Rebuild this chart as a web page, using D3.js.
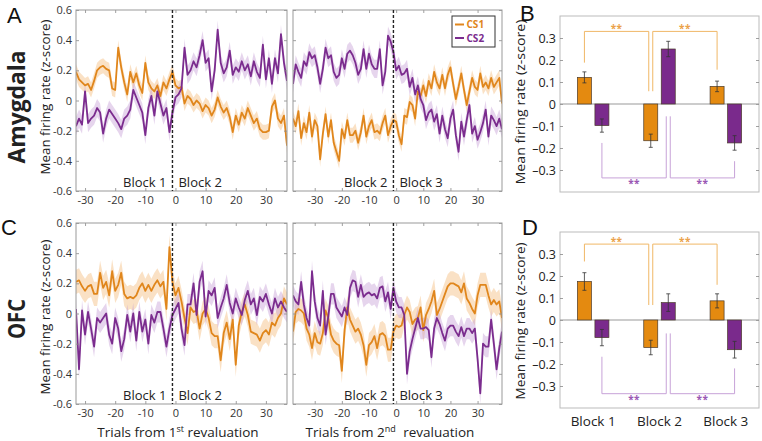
<!DOCTYPE html>
<html><head><meta charset="utf-8">
<script src="https://cdn.jsdelivr.net/npm/d3@7"></script>
<style>
body{margin:0;background:#fff}
svg text{font-family:"Open Sans","Noto Sans",sans-serif}
</style>
</head><body>
<svg id="chart" width="762" height="441"></svg>
<script>
// ---------------- DATA ----------------
const trialsRev1 = d3.range(-33, 38);   // trials from 1st revaluation
const trialsRev2 = d3.range(-38, 40);   // trials from 2nd revaluation
const xTicks = [-30, -20, -10, 0, 10, 20, 30];
const yTicksLine = [0.6, 0.4, 0.2, 0, -0.2, -0.4, -0.6];
const yTicksBar = [0.3, 0.2, 0.1, 0, -0.1, -0.2, -0.3];

const amyRev1CS1 = [0.19,0.14,0.12,0.10,0.11,0.07,0.13,0.20,0.22,0.23,0.21,0.20,0.08,0.07,0.35,0.22,0.12,0.04,0.19,0.12,0.18,0.10,0.05,0.25,0.12,0.08,0.06,0.10,0.03,0.12,0.08,0.14,0.19,
  0.10,0.08,0.09,-0.02,0.03,0.01,-0.03,0.00,-0.02,-0.07,-0.03,-0.05,-0.10,-0.06,0.02,-0.04,-0.08,-0.05,-0.11,-0.21,-0.10,-0.16,-0.08,-0.12,-0.05,-0.10,-0.15,-0.12,-0.19,-0.21,-0.21,-0.20,-0.04,0.00,-0.12,-0.15,-0.10,-0.30];
const amyRev1CS2 = [-0.17,-0.12,-0.16,0.06,-0.15,-0.12,-0.10,-0.05,-0.08,-0.22,-0.12,-0.06,-0.09,-0.12,-0.15,-0.19,-0.12,-0.10,-0.06,0.07,0.02,-0.03,-0.08,-0.23,-0.05,0.03,-0.10,0.06,-0.02,-0.10,-0.05,-0.21,-0.08,
  0.02,0.04,0.08,0.35,0.17,0.20,0.26,0.22,0.30,0.40,0.25,0.28,0.06,0.20,0.47,0.25,0.18,0.22,0.33,0.17,0.22,0.19,0.26,0.20,0.24,0.16,0.26,0.19,0.15,0.37,0.14,0.28,0.11,0.28,0.18,0.44,0.25,0.13];
const amyRev2CS1 = [-0.12,-0.17,-0.07,-0.25,-0.15,-0.21,-0.08,-0.24,-0.13,-0.17,-0.39,-0.22,-0.09,-0.24,-0.13,-0.28,-0.34,-0.40,-0.19,-0.25,-0.13,-0.23,-0.23,-0.20,-0.28,-0.21,-0.10,-0.24,-0.17,-0.13,-0.21,-0.20,-0.22,-0.15,-0.10,-0.23,-0.17,-0.13,
  -0.14,-0.23,-0.29,-0.10,-0.11,-0.01,-0.03,-0.12,0.06,0.03,0.10,0.03,0.13,0.08,0.19,0.12,0.08,0.17,0.08,0.17,0.22,0.11,0.01,0.09,0.18,0.07,-0.03,0.06,0.15,0.09,0.07,0.18,0.09,0.12,0.08,0.15,0.09,0.12,0.15,-0.02];
const amyRev2CS2 = [0.11,0.24,0.19,0.15,0.26,0.23,0.32,0.28,0.30,0.22,0.11,0.21,0.35,0.28,0.30,0.19,0.15,0.17,0.28,0.21,0.31,0.33,0.30,0.25,0.17,0.21,0.34,0.21,0.31,0.24,0.21,0.21,0.34,0.10,0.19,0.43,0.39,0.32,
  0.20,0.23,0.17,0.18,0.21,0.09,0.15,0.04,0.10,0.01,-0.03,-0.13,-0.08,-0.06,-0.14,-0.09,-0.22,-0.10,-0.19,-0.25,-0.12,-0.06,-0.23,-0.34,-0.14,-0.24,-0.13,-0.03,-0.22,-0.17,-0.26,-0.21,-0.15,-0.06,-0.24,-0.10,-0.13,-0.17,-0.12,-0.19];
const ofcRev1CS1 = [0.21,0.22,0.18,0.15,0.18,0.19,0.13,0.13,0.27,0.17,0.21,0.12,0.28,0.15,0.19,0.27,0.13,0.10,0.11,0.10,0.12,0.17,0.20,0.15,0.19,0.15,0.19,0.22,0.18,0.21,0.03,0.44,0.21,
  0.12,0.17,0.08,-0.03,-0.13,0.04,0.01,0.02,-0.10,0.00,0.03,-0.03,-0.13,-0.15,-0.15,-0.31,-0.13,-0.06,-0.17,-0.04,-0.34,-0.08,0.01,0.06,-0.01,-0.12,-0.13,-0.14,-0.18,-0.13,-0.11,-0.14,-0.06,-0.08,-0.03,0.00,0.10,0.06];
const ofcRev1CS2 = [0.03,-0.37,0.02,-0.14,0.01,-0.10,-0.22,-0.03,-0.06,-0.03,0.00,-0.14,-0.20,-0.03,-0.10,-0.25,-0.17,-0.01,-0.12,0.00,-0.18,0.01,-0.12,-0.04,-0.20,-0.01,-0.06,0.01,0.01,-0.10,-0.22,-0.10,-0.01,
  0.03,0.07,-0.10,-0.21,0.06,0.06,0.20,-0.01,0.21,0.28,-0.02,0.15,0.12,0.17,-0.03,0.04,0.10,0.19,0.07,0.00,0.10,0.04,-0.01,0.09,0.15,0.06,0.10,-0.01,0.11,0.08,0.13,0.06,0.00,0.10,0.04,0.08,0.04,0.01];
const ofcRev2CS1 = [-0.12,0.01,0.03,0.02,0.00,-0.10,-0.14,-0.23,-0.13,-0.19,-0.20,-0.13,0.02,-0.03,-0.14,-0.18,-0.20,-0.21,-0.38,-0.11,0.04,-0.04,-0.08,-0.12,-0.10,-0.14,-0.21,-0.34,-0.21,-0.19,-0.15,-0.23,-0.14,-0.13,-0.15,-0.24,-0.24,-0.12,
  -0.08,-0.09,-0.08,-0.01,0.04,0.01,-0.07,-0.04,-0.03,0.04,-0.11,-0.01,0.03,0.08,0.15,-0.01,0.03,0.08,0.13,0.18,0.20,0.20,0.19,0.18,0.14,0.20,0.10,0.07,0.03,0.00,0.12,0.19,0.19,0.19,0.12,0.06,0.09,0.06,0.08,-0.03];
const ofcRev2CS2 = [0.12,0.08,0.06,0.21,0.06,-0.03,-0.08,0.28,0.08,-0.03,-0.08,0.15,-0.14,-0.02,0.13,0.13,0.04,0.01,-0.02,0.04,-0.01,0.17,0.22,0.21,0.11,0.19,0.11,0.13,0.14,0.12,0.13,0.10,0.17,0.18,0.08,0.14,0.03,0.17,
  0.08,0.04,0.04,-0.01,-0.40,-0.25,-0.17,-0.10,-0.03,-0.10,-0.10,-0.09,-0.11,-0.29,-0.10,-0.03,-0.07,-0.13,-0.18,-0.10,-0.08,-0.08,-0.12,-0.15,-0.09,-0.15,-0.10,-0.10,-0.13,-0.10,-0.30,-0.53,-0.20,-0.22,-0.22,-0.04,-0.20,-0.37,-0.23,-0.12];
// s.e.m. half-width of shaded bands [CS1, CS2]
const amySem = [0.05, 0.06];
const ofcSem = [0.08, 0.07];

const blocks = ["Block 1", "Block 2", "Block 3"];
const amyBarCS1 = [0.121, -0.167, 0.080];
const amyBarCS1Err = [0.025, 0.030, 0.024];
const amyBarCS2 = [-0.098, 0.250, -0.177];
const amyBarCS2Err = [0.030, 0.035, 0.033];
const ofcBarCS1 = [0.175, -0.125, 0.087];
const ofcBarCS1Err = [0.040, 0.033, 0.032];
const ofcBarCS2 = [-0.080, 0.079, -0.135];
const ofcBarCS2Err = [0.037, 0.040, 0.038];
// significance brackets: [level, leg1 end, leg2 end, leg3 end, leg4 end]
const amyBracketCS1 = [0.330, 0.188, 0.058, 0.058, 0.156];
const amyBracketCS2 = [-0.336, -0.177, -0.056, -0.056, -0.260];
const ofcBracketCS1 = [0.345, 0.266, 0.068, 0.068, 0.160];
const ofcBracketCS2 = [-0.335, -0.167, -0.061, -0.061, -0.220];
const sigLabel = "**";

// ---------------- STYLE ----------------
const ORANGE = "#E0861C", PURPLE = "#7B2C8E";
const ORANGE_BAND = "#F3BD7E", PURPLE_BAND = "#C8A2D6";
const BAR_ORANGE = "#E48A10", BAR_PURPLE = "#7A2A8C";
const BR_ORANGE = "#F0B766", BR_PURPLE = "#C7A2D8";
const STAR_ORANGE = "#EBA24A", STAR_PURPLE = "#9A58B4";

const svg = d3.select("#chart");

function fmtLine(d){ return d === 0 ? "0" : d.toFixed(1); }
function fmtBar(d){ return d === 0 ? "0" : (d < 0 ? "\u2013" : "") + Math.abs(d).toFixed(1); }

function styleAxis(sel, labelSize, labelColor){
  sel.select(".domain").remove();
  sel.selectAll(".tick line").attr("stroke", "#888").attr("stroke-width", 0.8);
  sel.selectAll(".tick text").attr("font-size", labelSize).attr("fill", labelColor)
     .style("font-family", '"Open Sans","Noto Sans",sans-serif');
}

let clipId = 0;
function linePanel(cfg){
  const g = svg.append("g");
  const x = d3.scaleLinear().domain(cfg.domain).range([cfg.left, cfg.right]);
  const y = d3.scaleLinear().domain([-0.6, 0.6]).range([cfg.bottom, cfg.top]);
  const id = "clip" + (clipId++);
  svg.append("clipPath").attr("id", id).append("rect")
    .attr("x", cfg.left).attr("y", cfg.top)
    .attr("width", cfg.right - cfg.left).attr("height", cfg.bottom - cfg.top);
  const plot = g.append("g").attr("clip-path", `url(#${id})`);
  cfg.series.forEach(s => {
    const area = d3.area().x((d, i) => x(cfg.trials[i]))
      .y0(d => y(d - s.sem)).y1(d => y(d + s.sem));
    plot.append("path").datum(s.values).attr("d", area)
      .attr("fill", s.band).attr("fill-opacity", 0.45);
  });
  cfg.series.forEach(s => {
    const line = d3.line().x((d, i) => x(cfg.trials[i])).y(d => y(d));
    plot.append("path").datum(s.values).attr("d", line)
      .attr("fill", "none").attr("stroke", s.color).attr("stroke-width", 1.8)
      .attr("stroke-linejoin", "round");
  });
  const bx = g.append("g").attr("transform", `translate(0,${cfg.bottom})`)
    .call(d3.axisBottom(x).tickValues(xTicks).tickSize(-3).tickPadding(5).tickFormat(d => String(d)));
  styleAxis(bx, 11, "#333");
  const tx = g.append("g").attr("transform", `translate(0,${cfg.top})`)
    .call(d3.axisTop(x).tickValues(xTicks).tickSize(-3).tickFormat(""));
  styleAxis(tx, 11, "#333");
  const ly = g.append("g").attr("transform", `translate(${cfg.left},0)`)
    .call(d3.axisLeft(y).tickValues(yTicksLine).tickSize(-3).tickPadding(4)
      .tickFormat(cfg.yLabels ? fmtLine : ""));
  styleAxis(ly, 11, "#333");
  const ry = g.append("g").attr("transform", `translate(${cfg.right},0)`)
    .call(d3.axisRight(y).tickValues(yTicksLine).tickSize(-3).tickFormat(""));
  styleAxis(ry, 11, "#333");
  g.append("rect").attr("x", cfg.left).attr("y", cfg.top)
    .attr("width", cfg.right - cfg.left).attr("height", cfg.bottom - cfg.top)
    .attr("fill", "none").attr("stroke", "#999").attr("stroke-width", 1);
  g.append("line").attr("x1", x(cfg.dash)).attr("x2", x(cfg.dash))
    .attr("y1", cfg.top).attr("y2", cfg.bottom)
    .attr("stroke", "#222").attr("stroke-width", 1.4).attr("stroke-dasharray", "3,2");
  g.append("text").attr("x", x(cfg.dash) - 6).attr("y", cfg.bottom - 4)
    .attr("text-anchor", "end").attr("font-size", 13).attr("fill", "#222").text(cfg.blockNames[0]);
  g.append("text").attr("x", x(cfg.dash) + 6).attr("y", cfg.bottom - 4)
    .attr("text-anchor", "start").attr("font-size", 13).attr("fill", "#222").text(cfg.blockNames[1]);
  return {x, y, g};
}

function barPanel(cfg){
  const g = svg.append("g");
  const x = d3.scalePoint().domain(blocks).range([cfg.left, cfg.right]).padding(0.5);
  const y = d3.scaleLinear().domain([-0.4, 0.4]).range([cfg.bottom, cfg.top]);
  const bw = 14, off = 8.75;
  g.append("rect").attr("x", cfg.left).attr("y", cfg.top)
    .attr("width", cfg.right - cfg.left).attr("height", cfg.bottom - cfg.top)
    .attr("fill", "none").attr("stroke", "#bbb").attr("stroke-width", 1);
  const ly = g.append("g").attr("transform", `translate(${cfg.left},0)`)
    .call(d3.axisLeft(y).tickValues(yTicksBar).tickSize(-3).tickPadding(4).tickFormat(fmtBar));
  styleAxis(ly, 12.5, "#222");
  const ry = g.append("g").attr("transform", `translate(${cfg.right},0)`)
    .call(d3.axisRight(y).tickValues(yTicksBar).tickSize(-3).tickFormat(""));
  styleAxis(ry, 12, "#222");
  g.append("line").attr("x1", cfg.left).attr("x2", cfg.right)
    .attr("y1", y(0)).attr("y2", y(0)).attr("stroke", "#999").attr("stroke-width", 1);

  const groups = [
    {vals: cfg.cs1, errs: cfg.cs1Err, dx: -off, fill: BAR_ORANGE},
    {vals: cfg.cs2, errs: cfg.cs2Err, dx: off, fill: BAR_PURPLE}
  ];
  groups.forEach(gr => {
    g.selectAll(null).data(gr.vals).join("rect")
      .attr("x", (d, i) => x(blocks[i]) + gr.dx - bw / 2)
      .attr("y", d => y(Math.max(0, d)))
      .attr("width", bw)
      .attr("height", d => Math.abs(y(d) - y(0)))
      .attr("fill", gr.fill).attr("stroke", "#4a3a2a").attr("stroke-width", 0.7);
    gr.vals.forEach((v, i) => {
      const cx = x(blocks[i]) + gr.dx, e = gr.errs[i];
      g.append("line").attr("x1", cx).attr("x2", cx).attr("y1", y(v - e)).attr("y2", y(v + e))
        .attr("stroke", "#333").attr("stroke-width", 0.8);
      [v - e, v + e].forEach(w => g.append("line").attr("x1", cx - 2).attr("x2", cx + 2)
        .attr("y1", y(w)).attr("y2", y(w)).attr("stroke", "#333").attr("stroke-width", 0.8));
    });
  });

  function bracket(b, dx, color, starColor, below){
    const c = blocks.map(k => x(k) + dx);
    const xs = [c[0], c[1] - 2, c[1] + 2, c[2]];
    const lvl = y(b[0]);
    [[0, 1], [2, 3]].forEach(([a, z]) => {
      g.append("path")
        .attr("d", `M${xs[a]},${y(b[a + 1])}V${lvl}H${xs[z]}V${y(b[z + 1])}`)
        .attr("fill", "none").attr("stroke", color).attr("stroke-width", 1);
      g.append("text").attr("x", (xs[a] + xs[z]) / 2).attr("y", below ? lvl + 9.5 : lvl + 0.5)
        .attr("text-anchor", "middle").attr("font-size", 10).attr("font-weight", "bold")
        .attr("letter-spacing", 0.5).attr("fill", starColor).text(sigLabel);
    });
  }
  bracket(cfg.brCS1, -off, BR_ORANGE, STAR_ORANGE, false);
  bracket(cfg.brCS2, off, BR_PURPLE, STAR_PURPLE, true);

  if (cfg.xLabels){
    g.selectAll(null).data(blocks).join("text")
      .attr("x", d => x(d)).attr("y", cfg.bottom + 18)
      .attr("text-anchor", "middle").attr("font-size", 13.5).attr("fill", "#222").text(d => d);
  }
  return {x, y, g};
}

function vLabel(text, cx, cy, size, len, weight){
  svg.append("text").attr("transform", `translate(${cx},${cy}) rotate(-90)`)
    .attr("text-anchor", "middle").attr("dy", "0.35em")
    .attr("font-size", size).attr("font-weight", weight || "normal").attr("fill", "#222")
    .attr("textLength", len).attr("lengthAdjust", "spacingAndGlyphs").text(text);
}

// ---------------- PANELS ----------------
linePanel({left: 76, right: 287, top: 10, bottom: 191, domain: [-33, 37], trials: trialsRev1, dash: -1,
  yLabels: true, blockNames: ["Block 1", "Block 2"],
  series: [{values: amyRev1CS1, sem: amySem[0], color: ORANGE, band: ORANGE_BAND},
           {values: amyRev1CS2, sem: amySem[1], color: PURPLE, band: PURPLE_BAND}]});
linePanel({left: 293, right: 502, top: 10, bottom: 191, domain: [-38, 39], trials: trialsRev2, dash: -1,
  yLabels: false, blockNames: ["Block 2", "Block 3"],
  series: [{values: amyRev2CS1, sem: amySem[0], color: ORANGE, band: ORANGE_BAND},
           {values: amyRev2CS2, sem: amySem[1], color: PURPLE, band: PURPLE_BAND}]});
linePanel({left: 76, right: 287, top: 223, bottom: 404, domain: [-33, 37], trials: trialsRev1, dash: -1,
  yLabels: true, blockNames: ["Block 1", "Block 2"],
  series: [{values: ofcRev1CS1, sem: ofcSem[0], color: ORANGE, band: ORANGE_BAND},
           {values: ofcRev1CS2, sem: ofcSem[1], color: PURPLE, band: PURPLE_BAND}]});
linePanel({left: 293, right: 502, top: 223, bottom: 404, domain: [-38, 39], trials: trialsRev2, dash: -1,
  yLabels: false, blockNames: ["Block 2", "Block 3"],
  series: [{values: ofcRev2CS1, sem: ofcSem[0], color: ORANGE, band: ORANGE_BAND},
           {values: ofcRev2CS2, sem: ofcSem[1], color: PURPLE, band: PURPLE_BAND}]});

barPanel({left: 560, right: 759, top: 16, bottom: 192, cs1: amyBarCS1, cs1Err: amyBarCS1Err,
  cs2: amyBarCS2, cs2Err: amyBarCS2Err, brCS1: amyBracketCS1, brCS2: amyBracketCS2, xLabels: false});
barPanel({left: 560, right: 759, top: 232, bottom: 408, cs1: ofcBarCS1, cs1Err: ofcBarCS1Err,
  cs2: ofcBarCS2, cs2Err: ofcBarCS2Err, brCS1: ofcBracketCS1, brCS2: ofcBracketCS2, xLabels: true});

// legend (panel A right)
const leg = svg.append("g");
leg.append("rect").attr("x", 452).attr("y", 16).attr("width", 43).attr("height", 31)
  .attr("fill", "#fff").attr("stroke", "#333").attr("stroke-width", 1);
[["CS1", ORANGE, 24.5], ["CS2", PURPLE, 38]].forEach(([t, c, yy]) => {
  leg.append("line").attr("x1", 455).attr("x2", 464).attr("y1", yy).attr("y2", yy)
    .attr("stroke", c).attr("stroke-width", 2);
  leg.append("text").attr("x", 466.5).attr("y", yy + 3.5).attr("font-size", 10)
    .attr("font-weight", "bold").attr("fill", c).text(t);
});

// axis titles
vLabel("Mean firing rate (z-score)", 45, 97, 13, 155);
vLabel("Mean firing rate (z-score)", 45, 317, 13, 155);
vLabel("Mean firing rate (z-score)", 520, 102, 13.5, 165);
vLabel("Mean firing rate (z-score)", 520, 321, 13.5, 157);
vLabel("Amygdala", 17, 107, 24, 113, "bold");
vLabel("OFC", 17, 319, 24, 40, "bold");

function xTitle(cx, ord, sup){
  const t = svg.append("text").attr("x", cx).attr("y", 437).attr("text-anchor", "middle")
    .attr("font-size", 13.5).attr("fill", "#222");
  t.append("tspan").text("Trials from " + ord);
  t.append("tspan").attr("dy", -5).attr("font-size", 9).text(sup);
  t.append("tspan").attr("dy", 5).attr("dx", sup === "nd" ? 4 : 0).text(" revaluation");
}
xTitle(178, "1", "st");
xTitle(390, "2", "nd");

// panel letters
[["A", 7, 23], ["B", 520, 20.5], ["C", 1, 235], ["D", 522, 235]].forEach(([t, x, y]) => {
  svg.append("text").attr("x", x).attr("y", y).attr("font-size", 22)
    .style("font-family", '"Liberation Sans",Arial,sans-serif').attr("fill", "#111").text(t);
});
</script>
</body></html>
